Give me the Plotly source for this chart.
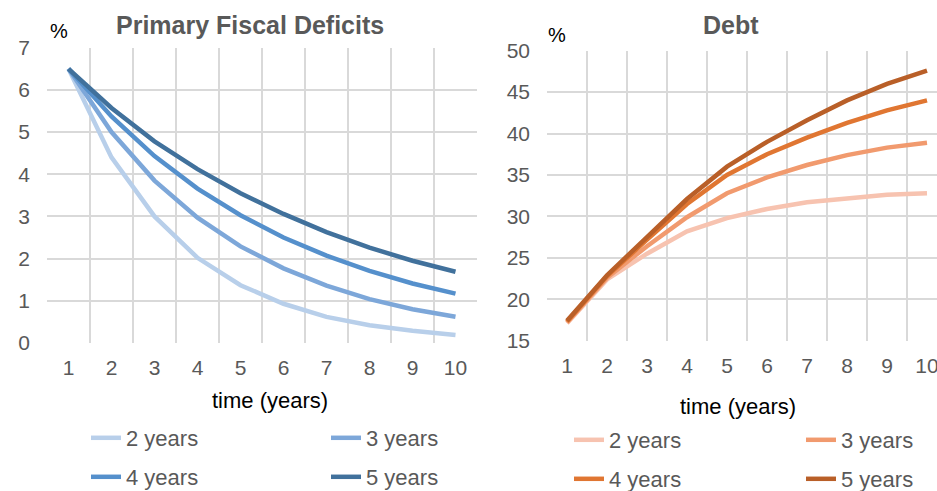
import plotly.graph_objects as go

# Years after the shock
years = [1, 2, 3, 4, 5, 6, 7, 8, 9, 10]

# Primary fiscal deficits (% of GDP) by adjustment horizon
pfd_2y = [6.5, 4.4, 3.0, 2.02, 1.37, 0.93, 0.62, 0.42, 0.29, 0.19]
pfd_3y = [6.5, 5.0, 3.85, 2.97, 2.29, 1.77, 1.36, 1.04, 0.80, 0.62]
pfd_4y = [6.5, 5.37, 4.43, 3.66, 3.03, 2.50, 2.07, 1.71, 1.41, 1.17]
pfd_5y = [6.5, 5.57, 4.78, 4.12, 3.55, 3.06, 2.63, 2.26, 1.95, 1.69]

# Debt (% of GDP) by adjustment horizon
debt_2y = [17.1, 22.4, 25.5, 28.2, 29.8, 30.9, 31.7, 32.2, 32.6, 32.8]
debt_3y = [17.2, 22.6, 26.4, 29.9, 32.8, 34.7, 36.2, 37.4, 38.3, 38.9]
debt_4y = [17.3, 22.8, 27.2, 31.5, 35.0, 37.5, 39.5, 41.3, 42.8, 44.0]
debt_5y = [17.4, 22.9, 27.5, 32.1, 36.0, 39.0, 41.6, 44.0, 46.0, 47.6]

series_names = ["2 years", "3 years", "4 years", "5 years"]
blues = ["#B8CFEA", "#7DA7D9", "#5590CC", "#41719C"]
oranges = ["#F7C3B0", "#F19A6E", "#E07632", "#B95F28"]

W, H = 937, 491
FONT = "Liberation Sans, Arial, sans-serif"
GRID = "#D9D9D9"
TXT = "#595959"


def px(x):
    return x / W


def py(y):
    return 1 - y / H


fig = go.Figure()

pfd = [pfd_2y, pfd_3y, pfd_4y, pfd_5y]
debt = [debt_2y, debt_3y, debt_4y, debt_5y]

# one legend box per entry, laid out as a 2x2 grid under each panel
left_slots = [(86, 438), (326, 438), (86, 477), (326, 477)]
right_slots = [(569, 440), (801, 440), (569, 479), (801, 479)]

legend_common = dict(
    orientation="h", xanchor="left", yanchor="middle",
    font=dict(family=FONT, size=22, color=TXT),
    bgcolor="rgba(0,0,0,0)", borderwidth=0,
    itemclick=False, itemdoubleclick=False,
)
legend_layout = {}

for i, name in enumerate(series_names):
    lid = "legend" if i == 0 else f"legend{i + 1}"
    fig.add_trace(go.Scatter(
        x=years, y=pfd[i], name=name, mode="lines",
        line=dict(color=blues[i], width=4.5),
        xaxis="x", yaxis="y", legend=lid,
    ))
    legend_layout[lid] = dict(x=px(left_slots[i][0]), y=py(left_slots[i][1]), **legend_common)

for i, name in enumerate(series_names):
    lid = f"legend{i + 5}"
    fig.add_trace(go.Scatter(
        x=years, y=debt[i], name=name, mode="lines",
        line=dict(color=oranges[i], width=4.5),
        xaxis="x2", yaxis="y2", legend=lid,
    ))
    legend_layout[lid] = dict(x=px(right_slots[i][0]), y=py(right_slots[i][1]), **legend_common)

xcommon = dict(
    tickmode="array", tickvals=years, ticktext=[str(v) for v in years],
    showgrid=False, zeroline=False, showline=False,
    ticks="", ticklabelstandoff=10, automargin=False,
    ticklabeloverflow="allow",
    tickfont=dict(family=FONT, size=21, color=TXT),
    minor=dict(tick0=0.5, dtick=1, showgrid=True, gridcolor=GRID, gridwidth=1.5),
    fixedrange=True,
)
ycommon = dict(
    showgrid=True, gridcolor=GRID, gridwidth=1.5, zeroline=False,
    showline=False, ticks="", ticklabelstandoff=16, automargin=False,
    tickfont=dict(family=FONT, size=21, color=TXT),
    fixedrange=True,
)

fig.update_layout(
    width=W, height=H,
    margin=dict(l=0, r=0, t=0, b=0, autoexpand=False),
    paper_bgcolor="white", plot_bgcolor="white",
    showlegend=True,
    xaxis=dict(domain=[px(47), px(477)], range=[0.5, 10.5], anchor="y", **xcommon),
    yaxis=dict(domain=[py(343), py(47.7)], range=[0, 7], dtick=1, anchor="x", **ycommon),
    xaxis2=dict(domain=[px(547), 1.0], range=[0.5, 0.5 + (W - 547) / 40], anchor="y2", **xcommon),
    yaxis2=dict(domain=[py(340.7), py(50.7)], range=[15, 50], dtick=5, anchor="x2", **ycommon),
    **legend_layout,
)

annotations = [
    dict(text="<b>Primary Fiscal Deficits</b>", x=px(250), y=py(25),
         font=dict(family=FONT, size=25, color=TXT)),
    dict(text="<b>Debt</b>", x=px(731), y=py(25),
         font=dict(family=FONT, size=25, color=TXT)),
    dict(text="%", x=px(59), y=py(31), font=dict(family=FONT, size=20, color="black")),
    dict(text="%", x=px(557), y=py(35), font=dict(family=FONT, size=20, color="black")),
    dict(text="time (years)", x=px(270), y=py(400),
         font=dict(family=FONT, size=22, color="black")),
    dict(text="time (years)", x=px(738), y=py(406),
         font=dict(family=FONT, size=22, color="black")),
]
for a in annotations:
    a.update(xref="paper", yref="paper", showarrow=False,
             xanchor="center", yanchor="middle")
fig.update_layout(annotations=annotations)

fig.write_html("out.html", config={"displayModeBar": False})
